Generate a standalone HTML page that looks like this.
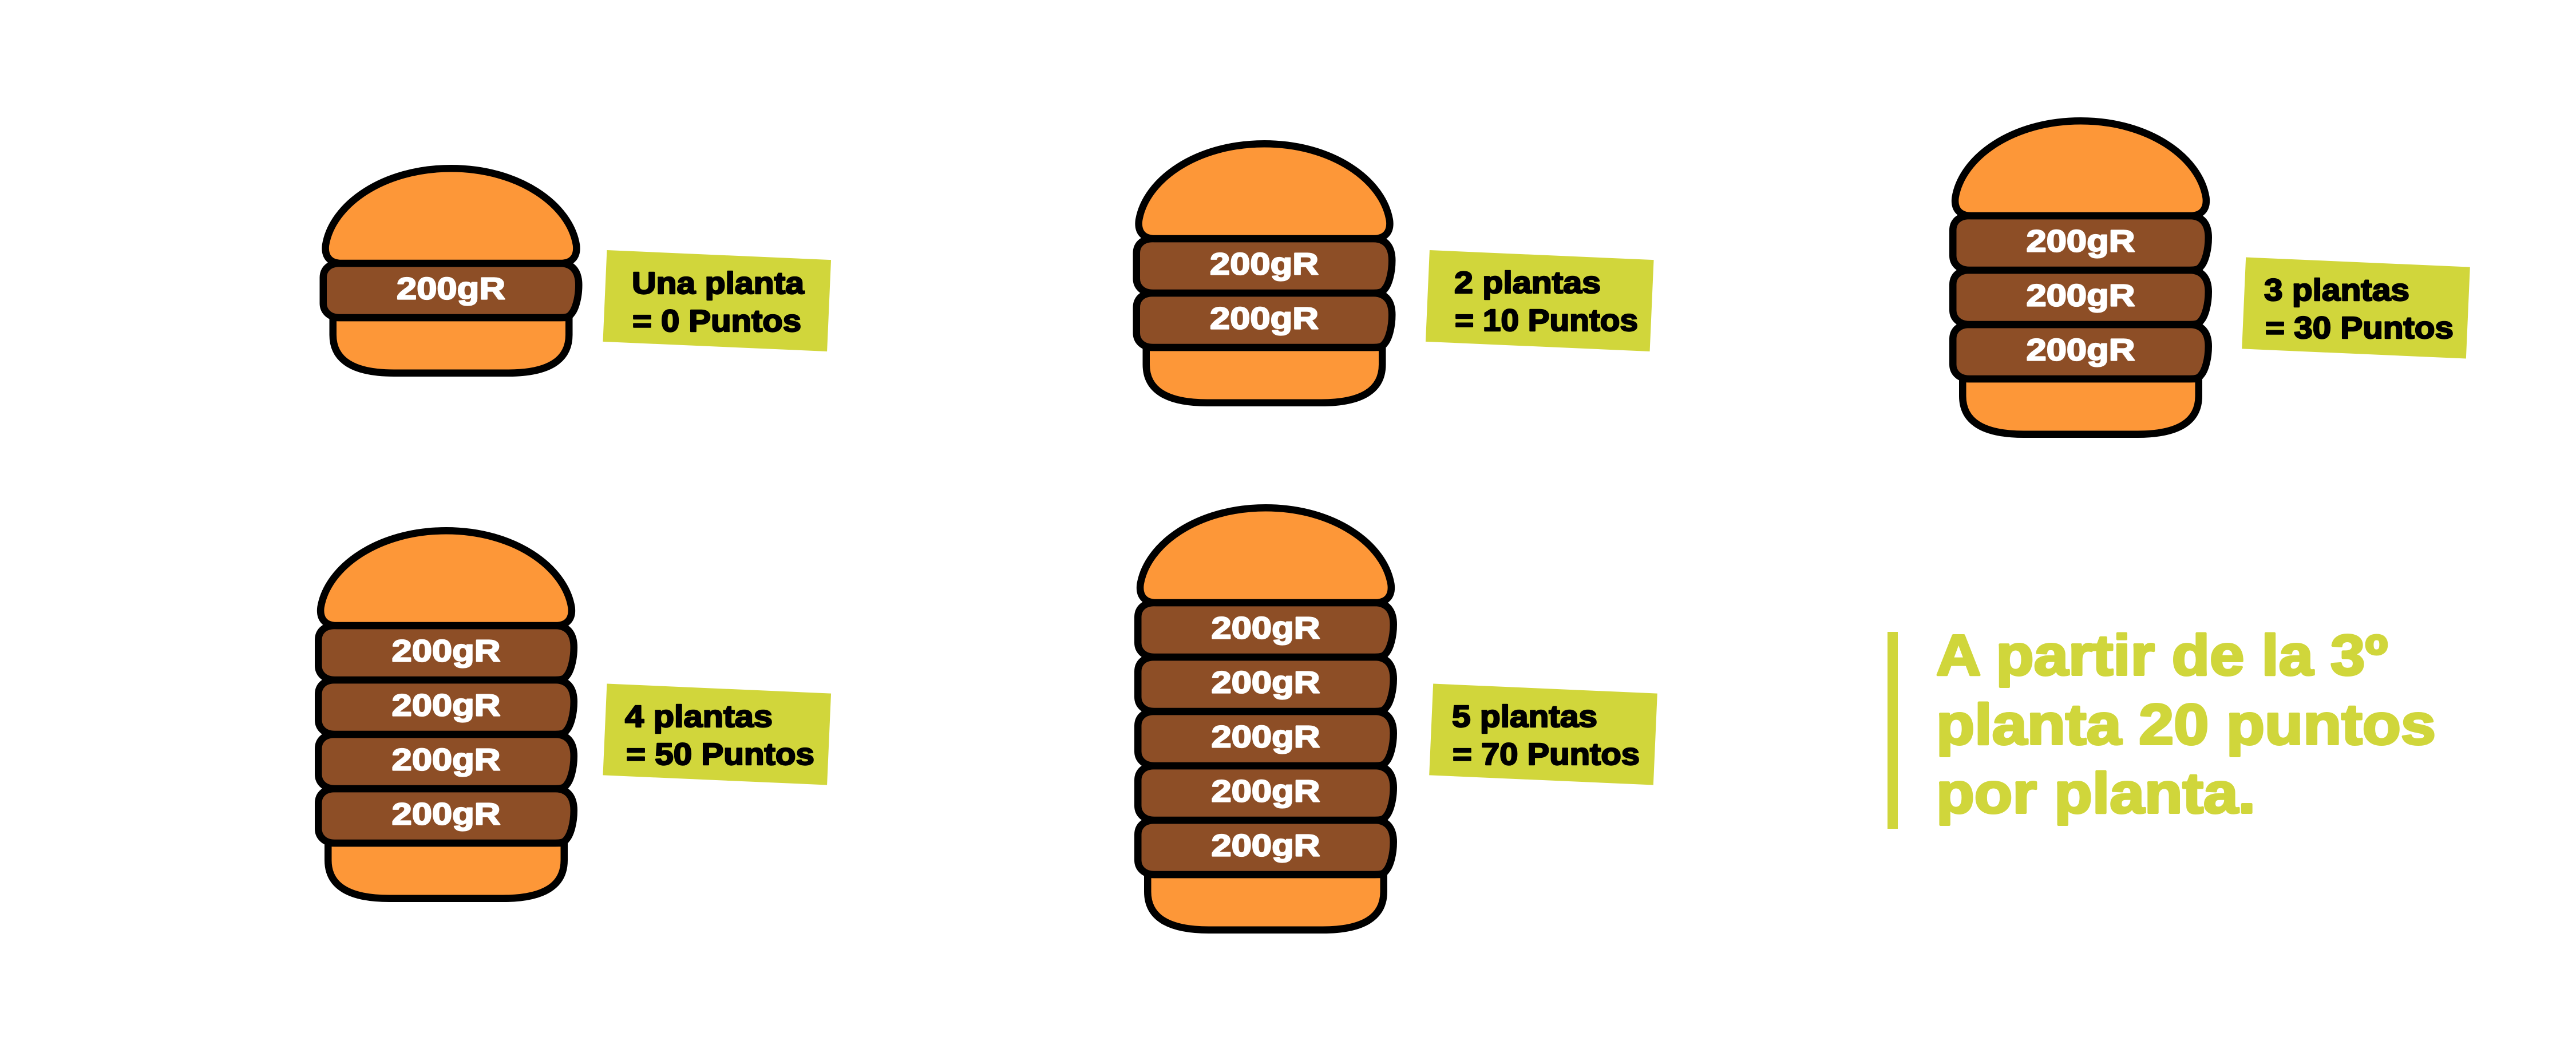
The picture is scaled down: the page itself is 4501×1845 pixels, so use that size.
<!DOCTYPE html>
<html>
<head>
<meta charset="utf-8">
<style>
  html, body { margin: 0; padding: 0; background: #ffffff; }
  svg { display: block; }
  .lbl { font-family: "Liberation Sans", Arial, sans-serif; font-weight: bold; font-size: 54px; fill: #000; stroke: #000; stroke-width: 2.4px; stroke-linejoin: round; }
  .gr { font-family: "Liberation Sans", Arial, sans-serif; font-weight: bold; font-size: 54px; fill: #fff; stroke: #fff; stroke-width: 2.2px; stroke-linejoin: round; }
  .big { font-family: "Liberation Sans", Arial, sans-serif; font-weight: bold; font-size: 100px; fill: #D0D63B; stroke: #D0D63B; stroke-width: 4px; stroke-linejoin: round; }
</style>
</head>
<body>
<svg width="4501" height="1845" viewBox="0 0 4501 1845" xmlns="http://www.w3.org/2000/svg">
  <rect x="0" y="0" width="4501" height="1845" fill="#ffffff"/>
  <defs>
    <path id="tb" d="M38,172 C18,172 8,160 10.5,140 C22,70 110,6.25 229.5,6.25 C349,6.25 437,70 448.5,140 C451,160 441,172 421,172 Z" fill="#FD9738" stroke="#000" stroke-width="12.5" stroke-linejoin="round"/>
    <path id="pt" d="M35,0 L420,0 C445,0 452.75,18 452.75,38 C452.75,60 447,80 440,88 C436,94 430,95 420,95 L35,95 C15,95 6.25,82 6.25,70 L6.25,25 C6.25,12 15,0 35,0 Z" fill="#8D4E26" stroke="#000" stroke-width="12.5" stroke-linejoin="round"/>
    <path id="bb" d="M23.25,0 L435.75,0 L435.75,30 C435.75,75 399,96.75 329,96.75 L130,96.75 C60,96.75 23.25,75 23.25,30 Z" fill="#FD9738" stroke="#000" stroke-width="12.5" stroke-linejoin="round"/>
  </defs>

  <!-- Burger 1 -->
  <g transform="translate(558.5,288)">
    <use href="#bb" y="267"/>
    <use href="#pt" y="172"/>
    <text class="gr" x="229.5" y="234.5" text-anchor="middle" textLength="190" lengthAdjust="spacingAndGlyphs">200gR</text>
    <use href="#tb"/>
  </g>

  <!-- Burger 2 -->
  <g transform="translate(1979.5,245)">
    <use href="#bb" y="362"/>
    <use href="#pt" y="267"/>
    <use href="#pt" y="172"/>
    <text class="gr" x="229.5" y="234.5" text-anchor="middle" textLength="190" lengthAdjust="spacingAndGlyphs">200gR</text>
    <text class="gr" x="229.5" y="329.5" text-anchor="middle" textLength="190" lengthAdjust="spacingAndGlyphs">200gR</text>
    <use href="#tb"/>
  </g>

  <!-- Burger 3 -->
  <g transform="translate(3406,205)">
    <use href="#bb" y="457"/>
    <use href="#pt" y="362"/>
    <use href="#pt" y="267"/>
    <use href="#pt" y="172"/>
    <text class="gr" x="229.5" y="234.5" text-anchor="middle" textLength="190" lengthAdjust="spacingAndGlyphs">200gR</text>
    <text class="gr" x="229.5" y="329.5" text-anchor="middle" textLength="190" lengthAdjust="spacingAndGlyphs">200gR</text>
    <text class="gr" x="229.5" y="424.5" text-anchor="middle" textLength="190" lengthAdjust="spacingAndGlyphs">200gR</text>
    <use href="#tb"/>
  </g>

  <!-- Burger 4 -->
  <g transform="translate(550,921)">
    <use href="#bb" y="552"/>
    <use href="#pt" y="457"/>
    <use href="#pt" y="362"/>
    <use href="#pt" y="267"/>
    <use href="#pt" y="172"/>
    <text class="gr" x="229.5" y="234.5" text-anchor="middle" textLength="190" lengthAdjust="spacingAndGlyphs">200gR</text>
    <text class="gr" x="229.5" y="329.5" text-anchor="middle" textLength="190" lengthAdjust="spacingAndGlyphs">200gR</text>
    <text class="gr" x="229.5" y="424.5" text-anchor="middle" textLength="190" lengthAdjust="spacingAndGlyphs">200gR</text>
    <text class="gr" x="229.5" y="519.5" text-anchor="middle" textLength="190" lengthAdjust="spacingAndGlyphs">200gR</text>
    <use href="#tb"/>
  </g>

  <!-- Burger 5 -->
  <g transform="translate(1982,881)">
    <use href="#bb" y="647"/>
    <use href="#pt" y="552"/>
    <use href="#pt" y="457"/>
    <use href="#pt" y="362"/>
    <use href="#pt" y="267"/>
    <use href="#pt" y="172"/>
    <text class="gr" x="229.5" y="234.5" text-anchor="middle" textLength="190" lengthAdjust="spacingAndGlyphs">200gR</text>
    <text class="gr" x="229.5" y="329.5" text-anchor="middle" textLength="190" lengthAdjust="spacingAndGlyphs">200gR</text>
    <text class="gr" x="229.5" y="424.5" text-anchor="middle" textLength="190" lengthAdjust="spacingAndGlyphs">200gR</text>
    <text class="gr" x="229.5" y="519.5" text-anchor="middle" textLength="190" lengthAdjust="spacingAndGlyphs">200gR</text>
    <text class="gr" x="229.5" y="614.5" text-anchor="middle" textLength="190" lengthAdjust="spacingAndGlyphs">200gR</text>
    <use href="#tb"/>
  </g>

  <!-- Label boxes -->
  <rect x="1056.75" y="445.5" width="392" height="160" fill="#D1D63B" transform="rotate(2.5 1252.75 525.5)"/>
  <rect x="2494.25" y="445.5" width="392" height="160" fill="#D1D63B" transform="rotate(2.5 2690.25 525.5)"/>
  <rect x="3920.5" y="458" width="392" height="160" fill="#D1D63B" transform="rotate(2.5 4116.5 538)"/>
  <rect x="1056.75" y="1203" width="392" height="160" fill="#D1D63B" transform="rotate(2.5 1252.75 1283)"/>
  <rect x="2500.5" y="1203" width="392" height="160" fill="#D1D63B" transform="rotate(2.5 2696.5 1283)"/>

  <!-- Label texts -->
  <text class="lbl" x="1104" y="513" textLength="301" lengthAdjust="spacingAndGlyphs">Una planta</text>
  <text class="lbl" x="1105" y="579" textLength="295" lengthAdjust="spacingAndGlyphs">= 0 Puntos</text>

  <text class="lbl" x="2541" y="512" textLength="256" lengthAdjust="spacingAndGlyphs">2 plantas</text>
  <text class="lbl" x="2542" y="578" textLength="320" lengthAdjust="spacingAndGlyphs">= 10 Puntos</text>

  <text class="lbl" x="3956" y="525" textLength="254" lengthAdjust="spacingAndGlyphs">3 plantas</text>
  <text class="lbl" x="3958" y="591" textLength="329" lengthAdjust="spacingAndGlyphs">= 30 Puntos</text>

  <text class="lbl" x="1092" y="1270" textLength="258" lengthAdjust="spacingAndGlyphs">4 plantas</text>
  <text class="lbl" x="1094" y="1336" textLength="329" lengthAdjust="spacingAndGlyphs">= 50 Puntos</text>

  <text class="lbl" x="2537" y="1270" textLength="254" lengthAdjust="spacingAndGlyphs">5 plantas</text>
  <text class="lbl" x="2538" y="1336" textLength="327" lengthAdjust="spacingAndGlyphs">= 70 Puntos</text>

  <!-- Right note -->
  <rect x="3298" y="1104" width="18" height="344" fill="#D0D63B"/>
  <text class="big" x="3383" y="1179" textLength="789" lengthAdjust="spacingAndGlyphs">A partir de la 3º</text>
  <text class="big" x="3383" y="1300" textLength="873" lengthAdjust="spacingAndGlyphs">planta 20 puntos</text>
  <text class="big" x="3383" y="1420" textLength="558" lengthAdjust="spacingAndGlyphs">por planta.</text>
</svg>
</body>
</html>
